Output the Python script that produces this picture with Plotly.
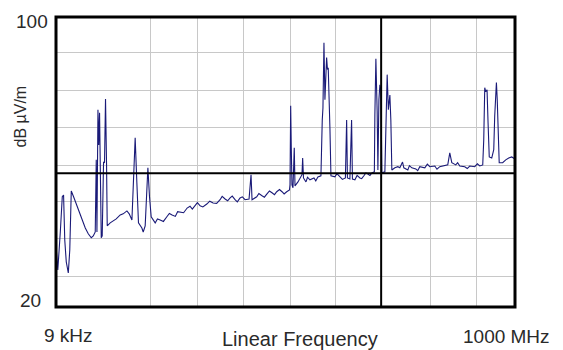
import plotly.graph_objects as go

# ---- data (frequency in MHz, level in dB µV/m) ----
freq_mhz = [0.009, 3.9, 9.4, 13.7, 16.5, 19.1, 22.4, 26.8, 30.0, 33.3, 38.3, 44.2, 49.2, 56.6, 63.8, 70.3,
            76.8, 81.2, 85.5, 87.7, 89.2, 91.4, 93.1, 94.9, 96.4, 98.6, 100.7, 103.6, 105.7, 107.9, 110.1,
            111.6, 118.1, 124.7, 131.2, 139.9, 146.4, 154.5, 159.5, 165.4, 168.8, 172.5, 176.2, 179.7,
            187.1, 190.0, 194.3, 196.5, 200.2, 203.7, 207.4, 216.1, 227.0, 241.5, 253.0, 270.4, 285.7,
            303.1, 314.0, 328.5, 342.3, 357.5, 368.4, 379.3, 390.1, 401.0, 411.9, 420.6, 424.9, 427.1,
            437.3, 448.9, 459.7, 470.6, 480.9, 492.4, 502.6, 508.7, 509.8, 511.3, 512.6, 514.1, 516.3,
            519.1, 520.7, 527.2, 535.9, 537.4, 539.2, 544.6, 553.3, 562.0, 570.7, 577.2, 580.1, 581.6,
            583.8, 585.9, 589.6, 591.4, 593.1, 594.6, 596.8, 599.0, 607.7, 618.6, 630.5, 633.2, 634.9,
            640.3, 644.0, 645.8, 651.2, 662.1, 670.8, 679.5, 688.2, 693.6, 694.7, 696.9, 699.7, 701.3,
            703.5, 705.6, 707.8, 708.9, 710.0, 716.5, 718.7, 721.5, 724.1, 727.4, 729.5, 731.7, 738.3,
            744.8, 749.1, 755.0, 757.8, 766.5, 775.2, 783.9, 792.6, 803.5, 814.4, 825.3, 836.1, 847.0,
            853.5, 857.9, 862.3, 871.0, 879.7, 890.6, 901.4, 912.3, 923.2, 929.7, 931.9, 934.1, 936.2,
            939.1, 941.3, 943.9, 949.3, 953.7, 955.8, 959.5, 961.3, 963.0, 965.6, 973.2, 979.8, 986.3,
            992.8, 999.3]
level_db = [37.1, 30.2, 40.7, 50.4, 50.9, 38.5, 32.4, 29.4, 35.7, 52.0, 50.4, 48.4, 46.2, 44.0, 41.8, 40.2,
            39.1, 39.6, 40.7, 60.6, 40.7, 74.4, 64.7, 73.6, 60.6, 39.1, 39.6, 60.0, 59.8, 77.4, 59.8,
            42.4, 43.2, 43.8, 44.3, 45.4, 45.7, 46.5, 45.7, 44.0, 54.2, 66.7, 54.2, 43.2,
            41.8, 40.7, 42.4, 50.1, 58.4, 50.4, 44.9, 43.2, 44.0, 44.9, 45.4, 46.2, 47.3,
            48.2, 47.9, 48.4, 48.7, 49.6, 49.8, 50.1, 49.6, 50.1, 49.6, 49.8, 56.5, 49.6,
            50.4, 50.7, 51.2, 51.5, 51.8, 51.8, 51.8, 52.3, 53.7, 75.5, 63.9, 53.7, 52.9,
            63.9, 53.4, 54.5, 56.5, 61.1, 55.6, 54.5, 55.1, 55.6, 55.9, 56.2, 71.6, 74.9,
            92.9, 77.2, 88.8, 85.5, 86.0, 74.9, 69.4, 56.2, 55.9, 55.9, 55.6, 71.6, 55.6,
            55.3, 71.6, 55.3, 55.1, 55.6, 56.2, 56.7, 57.0, 57.3, 73.0, 88.5, 73.9, 57.8,
            77.2, 81.3, 79.9, 62.0, 57.0, 57.3, 72.2, 84.1, 74.4, 78.5, 71.6, 57.8, 58.4,
            58.7, 58.4, 60.0, 58.4, 57.8, 58.4, 58.1, 58.7, 58.4, 58.7, 58.9, 58.7, 58.9,
            59.2, 62.5, 59.8, 59.2, 58.9, 58.7, 58.9, 58.7, 58.9, 59.2, 66.1, 80.5, 79.4,
            79.9, 70.8, 61.4, 61.1, 63.4, 72.7, 81.9, 77.2, 70.8, 59.8, 59.8, 60.6, 61.1,
            61.4, 60.9]

# extra readings of the small ripple on the noise floor
ripple_mhz = [221, 234, 247, 260, 265, 278, 292, 297, 308, 320, 335, 350, 362, 374, 384, 395, 406,
              442, 454, 465, 476, 487, 497, 548, 566, 612, 624, 656, 666, 675, 684,
              770, 788, 809, 830, 875, 896, 918]
ripple_db = [44.3, 43.6, 45.8, 45.0, 46.3, 46.0, 47.8, 47.0, 48.8, 47.6, 49.2, 48.6, 50.5, 49.3, 50.6,
             49.0, 50.4, 51.3, 50.3, 52.0, 51.0, 52.4, 51.2, 55.8, 54.8, 56.8, 55.2, 56.3, 55.4, 57.0,
             56.3, 59.0, 57.6, 59.4, 58.0, 59.8, 58.2, 59.5]

grid_x_mhz = [206.7, 307.4, 408.2, 509.8, 609.9, 708.4, 815.9, 916.0]
grid_y_db = [28.4, 38.8, 49.1, 59.1, 69.4, 79.7, 90.1]
limit_db = 56.9
marker_mhz = 708.4
x_range = [0.009, 1000]
y_range = [20, 100]

pts = sorted(zip(freq_mhz + ripple_mhz, level_db + ripple_db))
xs = [p[0] for p in pts]
ys = [p[1] for p in pts]

FONT = "Arial, Liberation Sans, sans-serif"
TXT = "#2a2a2a"

fig = go.Figure()
fig.add_trace(go.Scatter(x=xs, y=ys, mode="lines",
                         line=dict(color="#1a1a78", width=1.1), hoverinfo="skip"))

fig.add_hline(y=limit_db, line=dict(color="black", width=2))
fig.add_vline(x=marker_mhz, line=dict(color="black", width=2))

fig.update_xaxes(range=x_range, showticklabels=False, showgrid=False, zeroline=False, ticks="",
                 minor=dict(tickmode="array", tickvals=grid_x_mhz, showgrid=True,
                            gridcolor="#c8c8c8", gridwidth=1, ticks=""))
fig.update_yaxes(range=y_range, showticklabels=False, showgrid=False, zeroline=False, ticks="",
                 minor=dict(tickmode="array", tickvals=grid_y_db, showgrid=True,
                            gridcolor="#c8c8c8", gridwidth=1, ticks=""))

fig.add_shape(type="rect", xref="paper", yref="paper", x0=0, y0=0, x1=1, y1=1,
              line=dict(color="black", width=3), layer="above")

def ann(text, x, y, size, angle=0):
    fig.add_annotation(text=text, xref="paper", yref="paper", x=x, y=y,
                       xanchor="center", yanchor="middle", showarrow=False,
                       textangle=angle, font=dict(family=FONT, size=size, color=TXT))

ann("100", -0.0523, 0.9838, 19)
ann("20", -0.0545, 0.0224, 19)
ann("9 kHz", 0.0272, -0.0966, 19)
ann("1000 MHz", 0.9804, -0.10, 19)
ann("Linear Frequency", 0.5316, -0.112, 20)
ann("dB µV/m", -0.0784, 0.657, 16, angle=-90)

fig.update_layout(width=563, height=350, margin=dict(l=56, r=48, t=17, b=43),
                  paper_bgcolor="white", plot_bgcolor="white", showlegend=False)

fig.write_html("out.html", config={"displayModeBar": False},
               post_script="document.body.style.margin='0px';document.body.style.overflow='hidden';")
